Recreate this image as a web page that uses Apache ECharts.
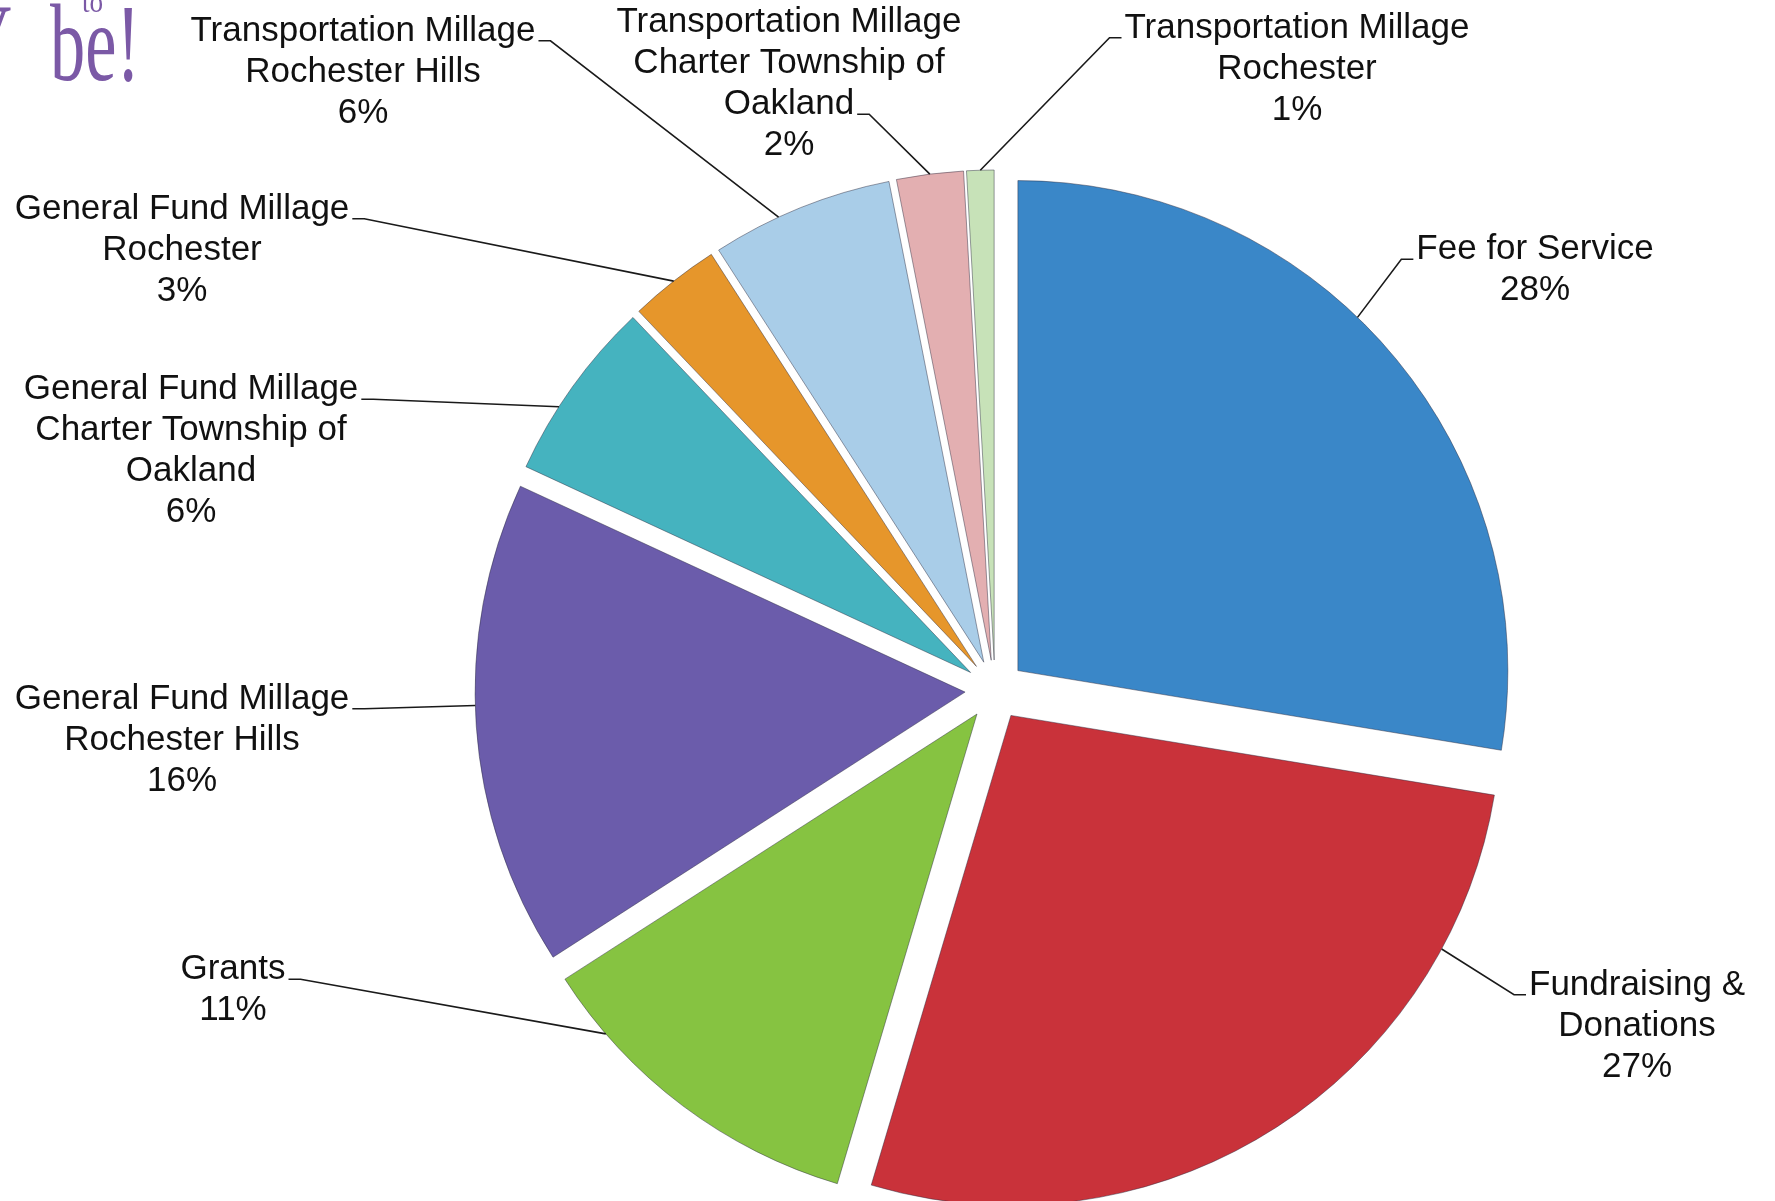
<!DOCTYPE html>
<html>
<head>
<meta charset="utf-8">
<script src="https://cdn.jsdelivr.net/npm/echarts/dist/echarts.min.js"></script>
<style>
html,body{margin:0;padding:0;background:#ffffff;}
#main{width:1775px;height:1201px;}
</style>
</head>
<body>
<div id="main"></div>
<script>
// ---- data ----
const categories = [
  'Fee for Service',
  'Fundraising &\nDonations',
  'Grants',
  'General Fund Millage\nRochester Hills',
  'General Fund Millage\nCharter Township of\nOakland',
  'General Fund Millage\nRochester',
  'Transportation Millage\nRochester Hills',
  'Transportation Millage\nCharter Township of\nOakland',
  'Transportation Millage\nRochester'
];
const shares = [27.6, 27.0, 11.3, 16.0, 6.0, 3.0, 6.0, 2.2, 0.9];

// ---- styling / layout (not data) ----
const colors = ['#3A87C8', '#C9323A', '#86C341', '#6B5CAB', '#45B3BF', '#E6962B', '#A9CDE8', '#E3AFB1', '#C7E2B8'];
const labelCenters = [
  [1535, 270], [1637, 1026], [233, 990], [182, 740], [191, 451],
  [182, 250], [363, 72], [789, 84], [1297, 69]
];
const PIE_CENTER = [995, 690];
const PIE_R = 490;
const OFFSET = 30;
const FS = 35, LH = 41;
const FONT = 'Liberation Sans';

const chart = echarts.init(document.getElementById('main'), null, {renderer: 'canvas'});
const measureCtx = document.createElement('canvas').getContext('2d');
measureCtx.font = FS + 'px "' + FONT + '"';

function labelLayoutFn(params) {
  const i = params.dataIndex;
  const c = labelCenters[i];
  const base = { x: c[0], y: c[1], align: 'center', verticalAlign: 'middle' };
  const data = chart.getModel().getSeriesByIndex(0).getData();
  const lay = data.getItemLayout(i);
  if (!lay) return base;
  const lines = (params.text || '').split('\n');
  const n = lines.length;
  const top = c[1] - n * LH / 2;
  const lo = Math.min(lay.startAngle, lay.endAngle), hi = Math.max(lay.startAngle, lay.endAngle);
  const mid = (lo + hi) / 2;
  const scx = lay.cx + Math.cos(mid) * OFFSET, scy = lay.cy + Math.sin(mid) * OFFSET;
  const span = hi - lo;
  const m = Math.min(span / 2, Math.max(0.15 * span, 8 * Math.PI / 180));
  function arcPointFor(px, py) {
    let a = Math.atan2(py - scy, px - scx);
    while (a < lo) a += 2 * Math.PI;
    while (a >= lo + 2 * Math.PI) a -= 2 * Math.PI;
    if (a > hi) a = (a - hi) < (lo + 2 * Math.PI - a) ? hi : lo;
    a = Math.max(lo + m, Math.min(hi - m, a));
    return [scx + lay.r * Math.cos(a), scy + lay.r * Math.sin(a)];
  }
  let arc = arcPointFor(c[0], c[1]);
  let best = null;
  for (let iter = 0; iter < 2; iter++) {
    let bd = Infinity; best = null;
    lines.forEach((ln, k) => {
      const w = measureCtx.measureText(ln).width;
      const y = top + (k + 0.5) * LH + 0.28 * FS;
      [[c[0] - w / 2 - 3, y, -1], [c[0] + w / 2 + 3, y, 1]].forEach(p => {
        const d = Math.hypot(p[0] - arc[0], p[1] - arc[1]);
        if (d < bd) { bd = d; best = p; }
      });
    });
    arc = arcPointFor(best[0], best[1]);
  }
  const tick = [best[0] + best[2] * 12, best[1]];
  base.labelLinePoints = [arc, tick, [best[0], best[1]]];
  return base;
}

const pieData = categories.map((c, i) => ({ name: c, value: shares[i] }));

const option = {
  backgroundColor: '#ffffff',
  animation: false,
  graphic: [
    { type: 'text', x: -37, y: -4, scaleX: 0.62,
      style: { text: 'Y', fontSize: 110, fontFamily: 'Liberation Serif', fill: '#7B59A6', verticalAlign: 'top' } },
    { type: 'text', x: 50, y: -4, scaleX: 0.64,
      style: { text: 'be!', fontSize: 110, fontFamily: 'Liberation Serif', fill: '#7B59A6', verticalAlign: 'top' } },
    { type: 'text', x: 82, y: -12, scaleX: 0.85,
      style: { text: 'to', fontSize: 32, fontFamily: 'Liberation Serif', fill: '#7B59A6', verticalAlign: 'top' } }
  ],
  series: [{
    type: 'pie',
    center: PIE_CENTER,
    radius: PIE_R,
    startAngle: 90,
    clockwise: true,
    avoidLabelOverlap: false,
    selectedMode: 'multiple',
    selectedOffset: OFFSET,
    silent: true,
    data: pieData.map((d, i) => ({
      name: d.name, value: d.value, selected: true,
      itemStyle: { color: colors[i] }
    })),
    itemStyle: { borderColor: 'rgba(40,40,60,0.45)', borderWidth: 1 },
    select: { itemStyle: { borderColor: 'rgba(40,40,60,0.45)', borderWidth: 1 } },
    emphasis: { disabled: true },
    label: { show: false },
    labelLine: { show: false }
  }, {
    type: 'pie',
    center: PIE_CENTER,
    radius: PIE_R,
    startAngle: 90,
    clockwise: true,
    avoidLabelOverlap: false,
    silent: true,
    z: 3,
    data: pieData,
    itemStyle: { color: 'rgba(0,0,0,0)', borderWidth: 0 },
    emphasis: { disabled: true },
    label: {
      show: true,
      formatter: p => p.name + '\n' + Math.round(p.percent) + '%',
      fontFamily: FONT,
      fontSize: FS,
      lineHeight: LH,
      color: '#111111',
      align: 'center'
    },
    labelLine: {
      show: true, length: 10, length2: 0, smooth: false,
      lineStyle: { color: '#1a1a1a', width: 1.6 }
    },
    labelLayout: labelLayoutFn
  }]
};
chart.setOption(option);
</script>
</body>
</html>
